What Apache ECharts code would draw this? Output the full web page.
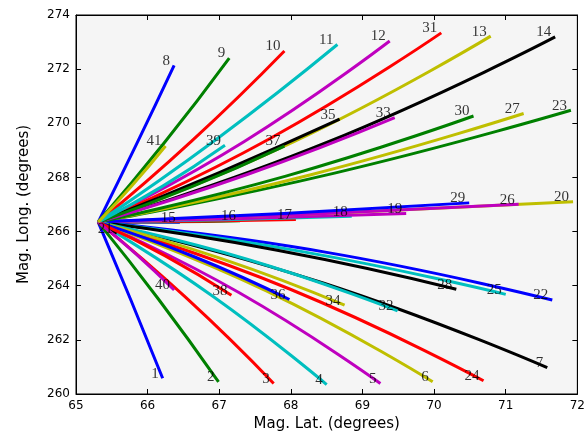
<!DOCTYPE html>
<html>
<head>
<meta charset="utf-8">
<script src="https://cdn.jsdelivr.net/npm/echarts@6/dist/echarts.min.js"></script>
<style>
html,body{margin:0;padding:0;background:#fff;}
#c{width:588px;height:438px;}
</style>
</head>
<body>
<div id="c"></div>
<script>
// Common start point of all tracks
const startLat = 65.31;
const startLong = 266.35;
// Track labels
const trackNames = ['1','2','3','4','5','6','7','8','9','10','11','12','13','14','15','16','17','18','19','20','21','22','23','24','25','26','27','28','29','30','31','32','33','34','35','36','37','38','39','40','41'];
// End points (Mag. Lat., Mag. Long.)
const endLat  = [66.21,66.99,67.76,68.50,69.25,69.98,71.58,66.37,67.14,67.91,68.65,69.38,70.79,71.69,66.45,67.29,68.07,68.85,69.61,71.94,65.57,71.65,71.91,70.69,71.00,71.18,71.25,70.31,70.49,70.55,70.10,69.49,69.45,68.75,68.68,67.98,67.91,67.17,67.08,66.37,66.25];
const endLong = [260.58,260.45,260.39,260.35,260.39,260.45,260.97,272.14,272.41,272.67,272.91,273.04,273.22,273.19,266.34,266.40,266.45,266.57,266.67,267.10,265.94,263.47,270.48,260.49,263.68,267.01,270.36,263.87,267.06,270.27,273.34,263.07,270.21,263.28,270.15,263.49,269.16,263.65,269.19,263.84,269.16];
// Mid points read along each track
const midLat  = [65.76,66.15,66.54,66.91,67.28,67.65,68.45,65.84,66.23,66.61,66.98,67.35,68.05,68.50,65.88,66.30,66.69,67.08,67.46,68.63,65.44,68.48,68.61,68.00,68.16,68.25,68.28,67.81,67.90,67.93,67.71,67.40,67.38,67.03,67.00,66.65,66.61,66.24,66.20,65.84,65.78];
const midLong = [263.51,263.51,263.55,263.61,263.74,263.82,264.10,269.20,269.27,269.33,269.45,269.33,269.33,269.29,266.35,266.36,266.38,266.44,266.49,266.69,266.15,265.24,268.16,263.86,265.26,266.64,268.10,265.31,266.67,268.05,269.44,264.97,268.10,265.00,268.18,265.07,267.65,265.11,267.66,265.17,267.69];
// Axis ticks
const xTicks = [65,66,67,68,69,70,71,72];
const yTicks = [260,262,264,266,268,270,272,274];

const colorCycle = ['#0000ff','#008000','#ff0000','#00bfbf','#bf00bf','#bfbf00','#000000'];

const chart = echarts.init(document.getElementById('c'), null, {renderer:'canvas'});

const series = [];
trackNames.forEach((n, i) => {
  series.push({
    type: 'line',
    name: n,
    data: [[startLat, startLong], [midLat[i], midLong[i]], [endLat[i], endLong[i]]],
    smooth: 0.5,
    symbol: 'none',
    silent: true,
    lineStyle: { width: 3, color: colorCycle[i % 7] },
    z: 2
  });
});
series.push({
  type: 'scatter',
  symbolSize: 0,
  z: 5,
  silent: true,
  data: trackNames.map((n, i) => ({ value: [endLat[i], endLong[i]], name: n })),
  label: {
    show: true,
    position: [0, 0],
    align: 'right',
    verticalAlign: 'bottom',
    offset: [-4, 3],
    formatter: p => p.name,
    fontFamily: 'Liberation Serif',
    fontSize: 15,
    color: '#000'
  }
});

const axisCommonX = {
  type: 'value', min: xTicks[0], max: xTicks[xTicks.length-1], interval: 1,
  axisLine: { show: true, onZero: false, lineStyle: { color: '#000', width: 1 } },
  axisTick: { show: true, inside: true, length: 5, lineStyle: { color: '#000' } },
  splitLine: { show: false }
};
const axisCommonY = {
  type: 'value', min: yTicks[0], max: yTicks[yTicks.length-1], interval: 2,
  axisLine: { show: true, onZero: false, lineStyle: { color: '#000', width: 1 } },
  axisTick: { show: true, inside: true, length: 5, lineStyle: { color: '#000' } },
  splitLine: { show: false }
};

chart.setOption({
  animation: false,
  backgroundColor: '#ffffff',
  grid: { left: 76, right: 5, top: 15, bottom: 44, show: true, backgroundColor: '#f5f5f5', borderColor: '#000', borderWidth: 1 },
  xAxis: [
    Object.assign({}, axisCommonX, {
      position: 'bottom',
      name: 'Mag. Lat. (degrees)', nameLocation: 'middle', nameGap: 17,
      nameTextStyle: { fontFamily: 'DejaVu Sans', fontSize: 15, color: '#000' },
      axisLabel: { fontFamily: 'DejaVu Sans', fontSize: 12, color: '#000', margin: 6, formatter: v => String(v) }
    }),
    Object.assign({}, axisCommonX, { position: 'top', axisLabel: { show: false } })
  ],
  yAxis: [
    Object.assign({}, axisCommonY, {
      position: 'left',
      name: 'Mag. Long. (degrees)', nameLocation: 'middle', nameGap: 44, nameRotate: 90,
      nameTextStyle: { fontFamily: 'DejaVu Sans', fontSize: 15, color: '#000' },
      axisLabel: { fontFamily: 'DejaVu Sans', fontSize: 12, color: '#000', margin: 6, formatter: v => String(v) }
    }),
    Object.assign({}, axisCommonY, { position: 'right', axisLabel: { show: false } })
  ],
  series: series
});
</script>
</body>
</html>
